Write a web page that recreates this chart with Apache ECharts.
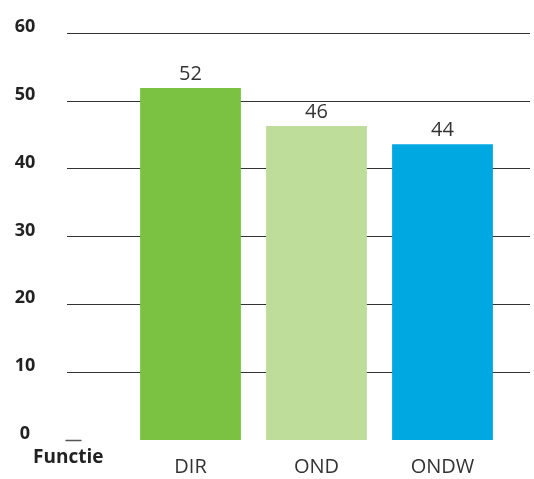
<!DOCTYPE html>
<html><head><meta charset="utf-8">
<script src="https://cdn.jsdelivr.net/npm/echarts@6/dist/echarts.min.js"></script>
<style>html,body{margin:0;padding:0;background:#fff}#c{width:534px;height:479px}</style>
</head><body><div id="c"></div>
<script>
const categories = ['DIR', 'OND', 'ONDW'];
const values = [51.9, 46.3, 43.6];
const colors = ['#7BC142', '#BEDD9B', '#00A8E1'];
const yTicks = [0, 10, 20, 30, 40, 50, 60];
const axisTitle = 'Functie';

const chart = echarts.init(document.getElementById('c'));
const gTop = 33, gBottom = 39;
chart.setOption({
  animation: false,
  grid: [
    { left: 67, right: 4, top: gTop, bottom: gBottom },
    { left: 127.5, right: 28.5, top: gTop, bottom: gBottom },
    { left: 66, width: 15, top: gTop, bottom: gBottom }
  ],
  xAxis: [
    { gridIndex: 0, type: 'value', show: false },
    { gridIndex: 1, type: 'category', data: categories,
      axisLine: { show: false }, axisTick: { show: false },
      axisLabel: { color: '#333', fontSize: 20, fontFamily: 'Open Sans', margin: 17 } },
    { gridIndex: 2, type: 'value', axisLine: { show: true, onZero: false, lineStyle: { color: '#555', width: 1.3 } },
      axisTick: { show: false }, axisLabel: { show: false }, splitLine: { show: false } }
  ],
  yAxis: [
    { gridIndex: 0, type: 'value', min: yTicks[0], max: yTicks[yTicks.length - 1], interval: 10,
      axisLine: { show: false }, axisTick: { show: false },
      splitLine: { show: true, showMinLine: false, lineStyle: { color: '#333', width: 1.2 } },
      axisLabel: { color: '#222', fontSize: 18, fontWeight: 'bold', fontFamily: 'Open Sans',
        align: 'center', margin: 42, verticalAlign: 'bottom', lineHeight: 12 } },
    { gridIndex: 1, type: 'value', min: 0, max: 60, show: false },
    { gridIndex: 2, type: 'value', min: 0, max: 60, show: false }
  ],
  series: [{
    type: 'bar', xAxisIndex: 1, yAxisIndex: 1,
    barCategoryGap: '20%',
    data: values.map((v, i) => ({ value: v, itemStyle: { color: colors[i] } })),
    label: { show: true, position: 'top', distance: 4, color: '#333', fontSize: 20, fontFamily: 'Open Sans',
      formatter: p => Math.round(p.value) }
  }],
  graphic: [{
    type: 'text', left: 33, top: 448,
    style: { text: axisTitle, fill: '#222', font: 'bold 19px "Open Sans"' }
  }]
});
</script></body></html>
